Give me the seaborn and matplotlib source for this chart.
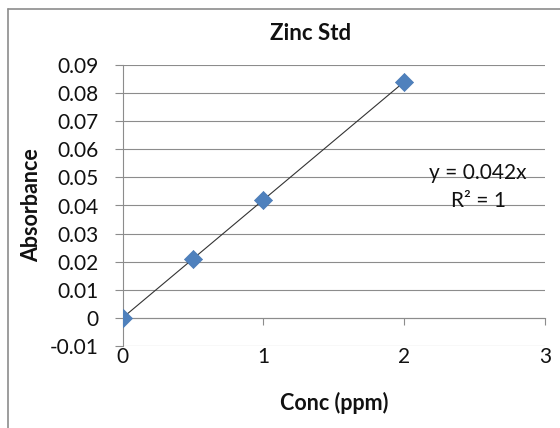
import numpy as np
import pandas as pd
import matplotlib
matplotlib.use("Agg")
import matplotlib.pyplot as plt
from matplotlib.lines import Line2D
from matplotlib.ticker import FuncFormatter
import seaborn as sns

# ---- data ----
conc = [0, 0.5, 1, 2]
absorbance = [0, 0.021, 0.042, 0.084]
x_ticks = [0, 1, 2, 3]
y_ticks = [-0.01, 0, 0.01, 0.02, 0.03, 0.04, 0.05, 0.06, 0.07, 0.08, 0.09]
title = "Zinc Std"
x_label = "Conc (ppm)"
y_label = "Absorbance"
eq_text = "y = 0.042x"
r2_text = "R² = 1"

sns.set_style("white")
plt.rcParams["font.family"] = ["Lato", "DejaVu Sans"]

df = pd.DataFrame({"conc": conc, "abs": absorbance})
# linear trendline through the origin, fitted to the data
xa = np.array(conc, dtype=float)
ya = np.array(absorbance, dtype=float)
slope = (xa * ya).sum() / (xa * xa).sum()
trend = pd.DataFrame({"conc": [min(conc), max(conc)]})
trend["abs"] = slope * trend["conc"]

W, H = 560, 428
fig = plt.figure(figsize=(W / 100, H / 100), dpi=100)
L, R, T, B = 122.5, 545, 65, 346
ax = fig.add_axes([L / W, 1 - B / H, (R - L) / W, (B - T) / H])

grid_c = "#8c8c8c"
txt_c = "#111111"
sns.lineplot(data=trend, x="conc", y="abs", ax=ax, color="#333333", lw=0.8, zorder=3)
sns.scatterplot(data=df, x="conc", y="abs", ax=ax, marker="D", s=85,
                color="#4F81BD", edgecolor="#4A7AB5", linewidth=0.5, zorder=4)

ax.set_xlim(0, 3)
ax.set_ylim(-0.01, 0.09)
ax.set_xticks(x_ticks)
ax.set_yticks(y_ticks)
ax.yaxis.set_major_formatter(FuncFormatter(lambda v, p: "%g" % round(v, 3)))
ax.xaxis.set_major_formatter(FuncFormatter(lambda v, p: "%g" % v))

ax.grid(axis="y", color=grid_c, lw=0.8)
ax.grid(axis="x", visible=False)

for s in ["top", "right"]:
    ax.spines[s].set_visible(False)
ax.spines["bottom"].set_position(("data", 0))
for s in ["bottom", "left"]:
    ax.spines[s].set_color(grid_c)
    ax.spines[s].set_linewidth(0.8)

ax.tick_params(axis="y", direction="out", length=6, width=0.8, color=grid_c,
               labelsize=15, pad=11, left=True, labelcolor=txt_c)
ax.tick_params(axis="x", direction="out", length=5, width=0.8, color=grid_c,
               labelsize=15, pad=16, bottom=True, labelcolor=txt_c)

ax.set_xlabel(x_label, fontsize=15.5, fontweight="bold", color=txt_c, va="baseline")
ax.set_ylabel(y_label, fontsize=15.5, fontweight="bold", color=txt_c, va="baseline")
ax.xaxis.set_label_coords((334 - L) / (R - L), -(410 - B) / (B - T))
ax.yaxis.set_label_coords(-(L - 38) / (R - L), (B - 205) / (B - T))
ax.set_title(title, fontsize=16, fontweight="bold", color=txt_c,
             x=(311 - L) / (R - L), y=(B - 40) / (B - T), va="baseline", pad=0)

ax.text(2.525, 0.0494, eq_text, ha="center", va="baseline", fontsize=15, color=txt_c)
ax.text(2.525, 0.0394, r2_text, ha="center", va="baseline", fontsize=15, color=txt_c)

# outer chart border
bx, by = 8 / W, 1 - 9 / H
fig.add_artist(Line2D([bx, bx], [0, by], transform=fig.transFigure, color=grid_c, lw=1.2))
fig.add_artist(Line2D([bx, 1], [by, by], transform=fig.transFigure, color=grid_c, lw=1.2))

fig.savefig("out.png", dpi=100)
